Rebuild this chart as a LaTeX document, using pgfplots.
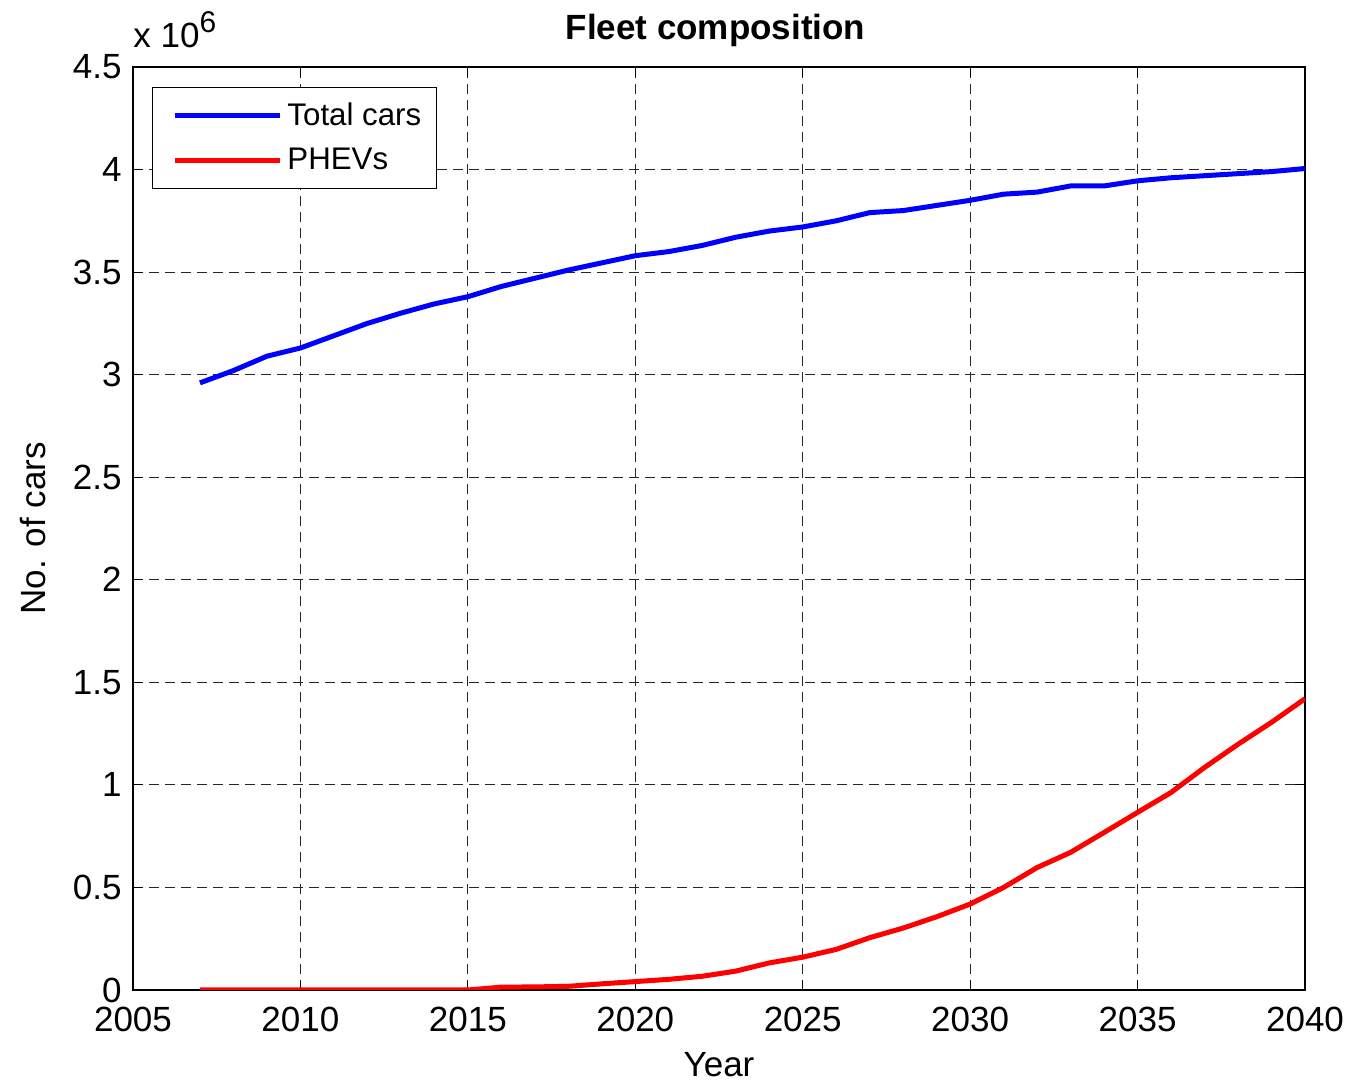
\documentclass[border=0pt]{standalone}
\usepackage{pgfplots}
\pgfplotsset{compat=1.18}
\usepackage{fontspec}
\setmainfont{Liberation Sans}

% values in millions of cars
\pgfplotstableread{
year total phev
2007 2.96 0
2008 3.02 0
2009 3.09 0
2010 3.13 0
2011 3.19 0
2012 3.25 0
2013 3.30 0
2014 3.345 0
2015 3.38 0
2016 3.43 0.014
2017 3.47 0.015
2018 3.51 0.018
2019 3.545 0.03
2020 3.58 0.041
2021 3.60 0.052
2022 3.63 0.067
2023 3.67 0.092
2024 3.70 0.132
2025 3.72 0.160
2026 3.75 0.198
2027 3.79 0.255
2028 3.80 0.302
2029 3.825 0.357
2030 3.85 0.419
2031 3.88 0.50
2032 3.89 0.597
2033 3.92 0.671
2034 3.92 0.768
2035 3.945 0.866
2036 3.96 0.963
2037 3.97 1.085
2038 3.98 1.198
2039 3.99 1.305
2040 4.005 1.42
}\fleet

\begin{document}
\begin{tikzpicture}
\begin{axis}[
  name=ax,
  width=468.8pt, height=369.2pt, scale only axis,
  clip mode=individual,
  xmin=2005, xmax=2040, ymin=0, ymax=4.5,
  xtick={2005,2010,...,2040}, ytick={0,0.5,...,4.5},
  /pgf/number format/assume math mode=true,
  xticklabel style={/pgf/number format/1000 sep={}, anchor=north, inner sep=0pt, yshift=-6.6pt},
  yticklabel style={anchor=east, inner sep=0pt, xshift=-4.4pt},
  ticklabel style={font=\fontsize{14}{16}\selectfont},
  tick align=inside, major tick length=4pt,
  tick style={black, line width=0.4pt},
  axis line style={black, line width=0.5pt},
  grid=major,
  major grid style={black!85, line width=0.4pt, dash pattern=on 4pt off 2.4pt},
  title={\textbf{Fleet composition}},
  title style={font=\fontsize{14}{16}\selectfont, at={(axis description cs:0.497,1.0303)}, anchor=base, yshift=-6pt},
  xlabel={Year}, ylabel={No. of cars},
  label style={font=\fontsize{14}{16}\selectfont},
  xlabel style={at={(axis description cs:0.5,-0.0935)}, anchor=base},
  ylabel style={at={(axis description cs:-0.0853,0.5)}, anchor=center},
  legend style={at={(0.0162,0.978)}, anchor=north west, draw=black,
    line width=0.4pt, font=\fontsize{12.5}{14}\selectfont,
    inner xsep=4pt, inner ysep=4pt, row sep=3.6pt},
  legend cell align=left,
  legend image code/.code={\path (0pt,0pt); \draw[#1] (4pt,0pt) -- (46pt,0pt);},
]
\addplot[blue, line width=2pt] table[x=year, y=total] {\fleet};
\addlegendentry{Total cars}
\addplot[red, line width=2pt] table[x=year, y=phev] {\fleet};
\addlegendentry{PHEVs}
\node[anchor=base west, inner sep=0pt, font=\fontsize{14}{16}\selectfont]
  at (axis description cs:0,1.0206)
  {x 10\raisebox{6pt}{\fontsize{12}{14}\selectfont 6}};
\end{axis}
\pgfresetboundingbox
\path[use as bounding box] ([xshift=-53.2pt, yshift=-36.8pt]ax.south west)
  rectangle ([xshift=18pt, yshift=26.8pt]ax.north east);
\end{tikzpicture}
\end{document}
